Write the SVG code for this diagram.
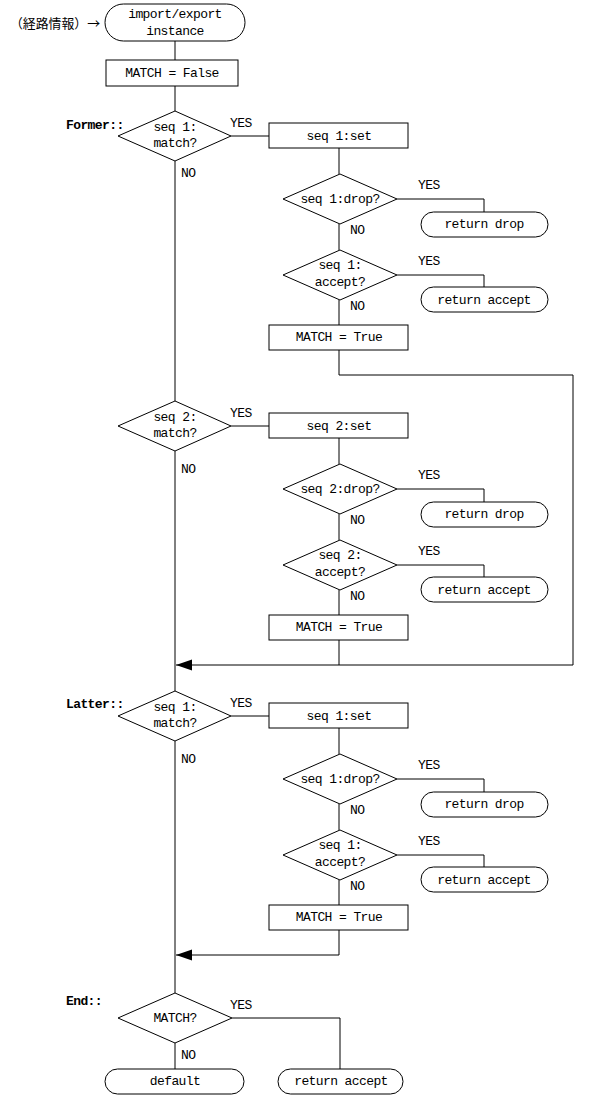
<svg xmlns="http://www.w3.org/2000/svg" width="592" height="1097" viewBox="0 0 592 1097">
<defs>
<style>
text{font-family:"Liberation Mono","DejaVu Sans Mono",monospace;font-size:13px;letter-spacing:-0.6px;fill:#000}
.c{text-anchor:middle}
.b{font-weight:bold}
.jp{font-family:"Noto Sans CJK JP","Noto Sans CJK SC",sans-serif;font-size:13px;letter-spacing:0}
.s{fill:#fff;stroke:#000;stroke-width:1}
.ln{fill:none;stroke:#000;stroke-width:1}
</style>
<marker id="arr" markerUnits="userSpaceOnUse" markerWidth="17" markerHeight="12" refX="16" refY="5.5" orient="auto">
<path d="M0,0 L16,5.5 L0,11 z" fill="#000"/>
</marker>
</defs>
<rect width="592" height="1097" fill="#fff"/>

<g id="connectors" class="ln">
<path d="M175,41V60M175,86V111"/>
<path d="M175,161V401M231,136H269M339,148V174M397,199H484V212M339,224V250M397,275H484V287M339,300V325"/>
<path d="M339,350V375H573V665H176" marker-end="url(#arr)"/>
<path d="M175,451V691M231,426H269M339,438V464M397,489H484V502M339,514V540M397,565H484V577M339,590V615M339,640V665"/>
<path d="M175,741V993M231,716H269M339,728V754M397,779H484V792M339,804V830M397,855H484V867M339,880V905"/>
<path d="M339,930V955H176" marker-end="url(#arr)"/>
<path d="M232,1018H340V1069M175,1043V1069"/>
</g>

<g id="labels">
<text x="10" y="28" class="jp" textLength="90" lengthAdjust="spacingAndGlyphs">（経路情報）→</text>
<text x="66" y="129" class="b">Former::</text>
<text x="66" y="708" class="b">Latter::</text>
<text x="66" y="1005" class="b">End::</text>
<text x="230" y="127">YES</text><text x="181" y="177">NO</text>
<text x="418" y="189">YES</text><text x="350" y="234">NO</text>
<text x="418" y="265">YES</text><text x="350" y="310">NO</text>
<text x="230" y="417">YES</text><text x="181" y="473">NO</text>
<text x="418" y="479">YES</text><text x="350" y="524">NO</text>
<text x="418" y="555">YES</text><text x="350" y="600">NO</text>
<text x="230" y="707">YES</text><text x="181" y="763">NO</text>
<text x="418" y="769">YES</text><text x="350" y="814">NO</text>
<text x="418" y="845">YES</text><text x="350" y="890">NO</text>
<text x="230" y="1009">YES</text><text x="181" y="1059">NO</text>
</g>

<g id="start">
<rect class="s" x="105" y="4" width="140" height="37" rx="18.5"/>
<text x="175" y="18" class="c">import/export</text>
<text x="175" y="35" class="c">instance</text>
</g>
<g id="init">
<rect class="s" x="106" y="60" width="132" height="26"/>
<text x="172" y="77" class="c">MATCH = False</text>
</g>

<!-- Former seq 1 -->
<g id="f1-match">
<polygon class="s" points="175,111 231,136 175,161 118,136"/>
<text x="175" y="131" class="c">seq 1:</text>
<text x="175" y="147" class="c">match?</text>
</g>
<g id="f1-set">
<rect class="s" x="269" y="123" width="139" height="25"/>
<text x="339" y="140" class="c">seq 1:set</text>
</g>
<g id="f1-drop">
<polygon class="s" points="340,174 397,199 340,224 283,199"/>
<text x="340" y="203" class="c">seq 1:drop?</text>
</g>
<g id="f1-retdrop">
<rect class="s" x="421" y="212" width="127" height="25" rx="12.5"/>
<text x="484" y="228" class="c">return drop</text>
</g>
<g id="f1-accept">
<polygon class="s" points="340,250 397,275 340,300 283,275"/>
<text x="340" y="269" class="c">seq 1:</text>
<text x="340" y="286" class="c">accept?</text>
</g>
<g id="f1-retaccept">
<rect class="s" x="421" y="287" width="127" height="25" rx="12.5"/>
<text x="484" y="304" class="c">return accept</text>
</g>
<g id="f1-true">
<rect class="s" x="269" y="325" width="139" height="25"/>
<text x="339" y="341" class="c">MATCH = True</text>
</g>

<!-- Former seq 2 -->
<g id="f2-match">
<polygon class="s" points="175,401 231,426 175,451 118,426"/>
<text x="175" y="421" class="c">seq 2:</text>
<text x="175" y="437" class="c">match?</text>
</g>
<g id="f2-set">
<rect class="s" x="269" y="413" width="139" height="25"/>
<text x="339" y="430" class="c">seq 2:set</text>
</g>
<g id="f2-drop">
<polygon class="s" points="340,464 397,489 340,514 283,489"/>
<text x="340" y="493" class="c">seq 2:drop?</text>
</g>
<g id="f2-retdrop">
<rect class="s" x="421" y="502" width="127" height="25" rx="12.5"/>
<text x="484" y="518" class="c">return drop</text>
</g>
<g id="f2-accept">
<polygon class="s" points="340,540 397,565 340,590 283,565"/>
<text x="340" y="559" class="c">seq 2:</text>
<text x="340" y="576" class="c">accept?</text>
</g>
<g id="f2-retaccept">
<rect class="s" x="421" y="577" width="127" height="25" rx="12.5"/>
<text x="484" y="594" class="c">return accept</text>
</g>
<g id="f2-true">
<rect class="s" x="269" y="615" width="139" height="25"/>
<text x="339" y="631" class="c">MATCH = True</text>
</g>

<!-- Latter seq 1 -->
<g id="l1-match">
<polygon class="s" points="175,691 231,716 175,741 118,716"/>
<text x="175" y="711" class="c">seq 1:</text>
<text x="175" y="727" class="c">match?</text>
</g>
<g id="l1-set">
<rect class="s" x="269" y="703" width="139" height="25"/>
<text x="339" y="720" class="c">seq 1:set</text>
</g>
<g id="l1-drop">
<polygon class="s" points="340,754 397,779 340,804 283,779"/>
<text x="340" y="783" class="c">seq 1:drop?</text>
</g>
<g id="l1-retdrop">
<rect class="s" x="421" y="792" width="127" height="25" rx="12.5"/>
<text x="484" y="808" class="c">return drop</text>
</g>
<g id="l1-accept">
<polygon class="s" points="340,830 397,855 340,880 283,855"/>
<text x="340" y="849" class="c">seq 1:</text>
<text x="340" y="866" class="c">accept?</text>
</g>
<g id="l1-retaccept">
<rect class="s" x="421" y="867" width="127" height="25" rx="12.5"/>
<text x="484" y="884" class="c">return accept</text>
</g>
<g id="l1-true">
<rect class="s" x="269" y="905" width="139" height="25"/>
<text x="339" y="921" class="c">MATCH = True</text>
</g>

<!-- End -->
<g id="end-match">
<polygon class="s" points="175,993 232,1018 175,1043 118,1018"/>
<text x="175" y="1022" class="c">MATCH?</text>
</g>
<g id="end-default">
<rect class="s" x="105" y="1069" width="139" height="25" rx="12.5"/>
<text x="175" y="1085" class="c">default</text>
</g>
<g id="end-accept">
<rect class="s" x="278" y="1069" width="125" height="25" rx="12.5"/>
<text x="341" y="1085" class="c">return accept</text>
</g>
</svg>
